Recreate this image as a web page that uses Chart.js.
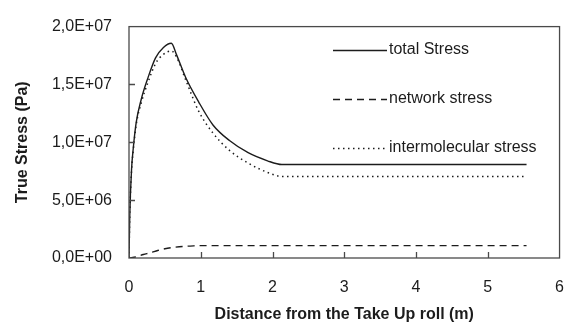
<!DOCTYPE html>
<html>
<head>
<meta charset="utf-8">
<script src="https://cdn.jsdelivr.net/npm/chart.js@4/dist/chart.umd.min.js"></script>
<style>
  html, body { margin: 0; padding: 0; background: #fff; }
  #wrap { width: 584px; height: 327px; }
</style>
</head>
<body>
<div id="wrap"><canvas id="stressChart"></canvas></div>
<script>
// distance from the take up roll (m)
const distance = [0, 0.01, 0.036, 0.058, 0.10, 0.17, 0.26, 0.37, 0.48, 0.59, 0.66, 0.79, 0.97, 1.17, 1.40, 1.66, 1.93, 2.13, 5.54];
const totalStress = [0, 3.5e6, 7.7e6, 9.4e6, 11.7e6, 13.7e6, 15.5e6, 17.3e6, 18.2e6, 18.56e6, 17.6e6, 15.6e6, 13.5e6, 11.5e6, 10.15e6, 9.1e6, 8.4e6, 8.08e6, 8.08e6];
const intermolecularStress = [0, 3.5e6, 7.6e6, 9.2e6, 11.5e6, 13.4e6, 15.1e6, 16.8e6, 17.6e6, 17.9e6, 17.4e6, 15.4e6, 12.7e6, 10.8e6, 9.3e6, 8.2e6, 7.4e6, 7.05e6, 7.05e6];
const networkDistance = [0, 0.1, 0.2, 0.3, 0.4, 0.5, 0.6, 0.7, 0.8, 0.9, 1.0, 5.54];
const networkStress = [0, 0.1e6, 0.3e6, 0.45e6, 0.65e6, 0.8e6, 0.9e6, 0.97e6, 1.02e6, 1.05e6, 1.07e6, 1.07e6];
const seriesLabels = ['total Stress', 'network stress', 'intermolecular stress'];
const xTicks = [0, 1, 2, 3, 4, 5, 6];
const yTicks = [0, 5e6, 1e7, 1.5e7, 2e7];

const FONT = '"Liberation Sans", Arial, sans-serif';
const INK = '#1c1c1c';

function toPoints(xs, ys) {
    return xs.map((x, i) => ({ x: x, y: ys[i] }));
}

// 2.0e+7 -> 2,0E+07
function sciLabel(v) {
    const parts = v.toExponential(1).split('e');
    let exp = parseInt(parts[1], 10);
    const sign = exp < 0 ? '-' : '+';
    exp = Math.abs(exp);
    return parts[0].replace('.', ',') + 'E' + sign + (exp < 10 ? '0' + exp : exp);
}

// frame round the plot + inward tick marks
const framePlugin = {
    id: 'frame',
    afterDraw(chart) {
        const ctx = chart.ctx;
        const a = chart.chartArea;
        const xs = chart.scales.x, ys = chart.scales.y;
        ctx.save();
        ctx.strokeStyle = '#4a4a4a';
        ctx.lineWidth = 1.3;
        ctx.strokeRect(a.left, a.top, a.right - a.left, a.bottom - a.top);
        ctx.beginPath();
        xTicks.slice(1, -1).forEach(t => {
            const px = Math.round(xs.getPixelForValue(t)) + 0.5;
            ctx.moveTo(px, a.bottom);
            ctx.lineTo(px, a.bottom - 6);
        });
        yTicks.slice(1, -1).forEach(t => {
            const py = Math.round(ys.getPixelForValue(t)) + 0.5;
            ctx.moveTo(a.left, py);
            ctx.lineTo(a.left + 6, py);
        });
        ctx.stroke();
        ctx.restore();
    }
};

// legend drawn inside the plot, line sample left of the text
const legendPlugin = {
    id: 'insideLegend',
    afterDatasetsDraw(chart) {
        const ctx = chart.ctx;
        const rows = [50, 99, 148];
        ctx.save();
        ctx.font = '16px ' + FONT;
        ctx.fillStyle = INK;
        ctx.textBaseline = 'middle';
        chart.data.datasets.forEach((ds, i) => {
            const y = rows[i] + 0.5;
            ctx.strokeStyle = ds.borderColor;
            ctx.lineWidth = ds.borderWidth;
            ctx.setLineDash(ds.borderDash || []);
            ctx.beginPath();
            ctx.moveTo(333, y);
            ctx.lineTo(387, y);
            ctx.stroke();
            ctx.fillText(ds.label, 389, rows[i]);
        });
        ctx.restore();
    }
};

const ctx = document.getElementById('stressChart').getContext('2d');
new Chart(ctx, {
    type: 'line',
    data: {
        datasets: [
            {
                label: seriesLabels[0],
                data: toPoints(distance, totalStress),
                borderColor: INK,
                borderWidth: 1.4,
                pointRadius: 0,
                cubicInterpolationMode: 'monotone'
            },
            {
                label: seriesLabels[1],
                data: toPoints(networkDistance, networkStress),
                borderColor: INK,
                borderWidth: 1.4,
                borderDash: [7, 5],
                pointRadius: 0,
                cubicInterpolationMode: 'monotone'
            },
            {
                label: seriesLabels[2],
                data: toPoints(distance, intermolecularStress),
                borderColor: INK,
                borderWidth: 1.5,
                borderDash: [1.5, 3.5],
                pointRadius: 0,
                cubicInterpolationMode: 'monotone'
            }
        ]
    },
    options: {
        responsive: true,
        maintainAspectRatio: false,
        animation: false,
        layout: { padding: { top: 22, right: 7, left: 0, bottom: 0 } },
        plugins: {
            legend: { display: false },
            tooltip: { enabled: false }
        },
        scales: {
            x: {
                type: 'linear',
                min: 0,
                max: 6,
                afterFit: s => { s.height = 69; },
                afterBuildTicks: s => { s.ticks = xTicks.map(v => ({ value: v })); },
                grid: { display: false, drawTicks: false },
                border: { display: false },
                ticks: {
                    padding: 20,
                    color: INK,
                    font: { family: FONT, size: 16 }
                },
                title: {
                    display: true,
                    text: 'Distance from the Take Up roll (m)',
                    color: INK,
                    font: { family: FONT, size: 16, weight: 'bold' },
                    padding: { top: 0, bottom: 3 }
                }
            },
            y: {
                type: 'linear',
                min: 0,
                max: 2e7,
                afterFit: s => { s.width = 129; },
                afterBuildTicks: s => { s.ticks = yTicks.map(v => ({ value: v })); },
                grid: { display: false, drawTicks: false },
                border: { display: false },
                ticks: {
                    padding: 17,
                    color: INK,
                    font: { family: FONT, size: 16 },
                    callback: v => sciLabel(v)
                },
                title: {
                    display: true,
                    text: 'True Stress (Pa)',
                    color: INK,
                    font: { family: FONT, size: 16, weight: 'bold' },
                    padding: { top: 13, bottom: 0 }
                }
            }
        }
    },
    plugins: [framePlugin, legendPlugin]
});
</script>
</body>
</html>
